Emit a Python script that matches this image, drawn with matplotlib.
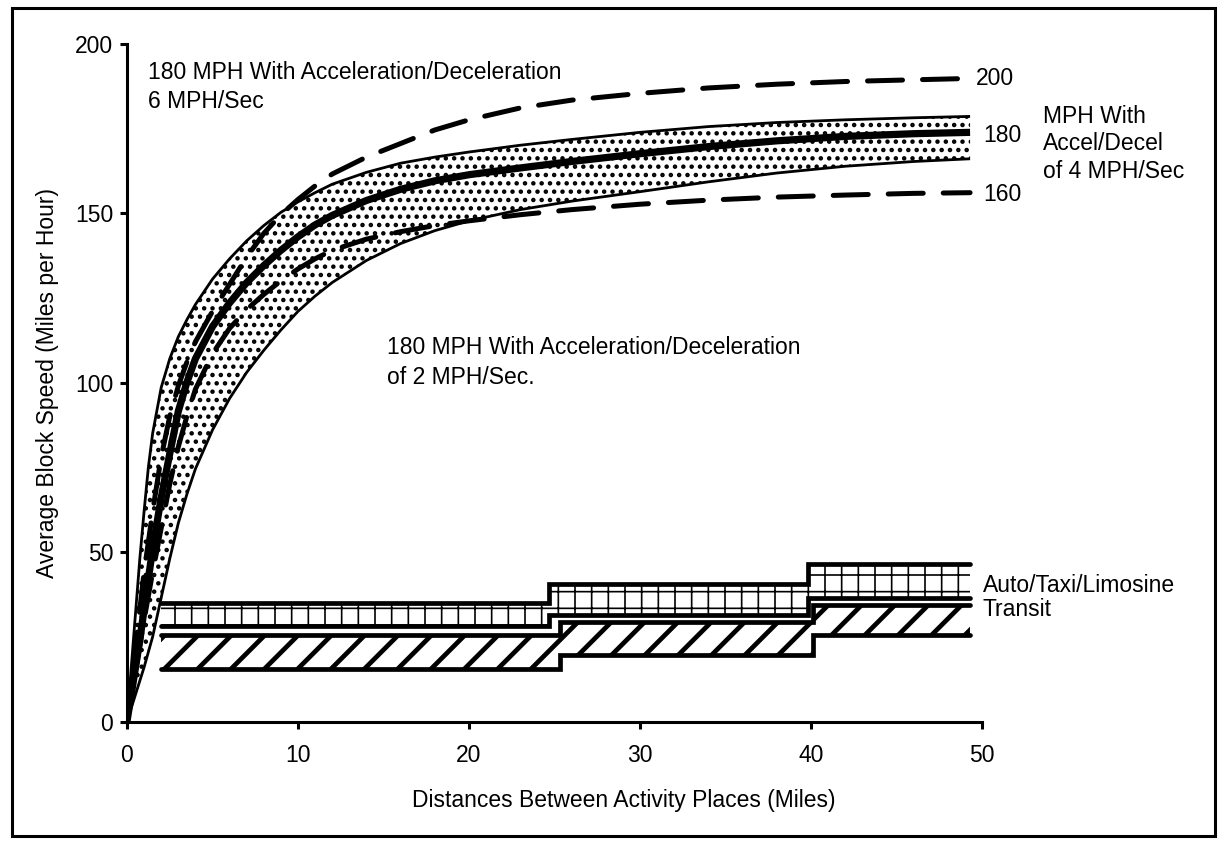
import matplotlib
matplotlib.use("Agg")
import matplotlib.pyplot as plt
from matplotlib.patches import Rectangle

plt.rcParams['font.family'] = ['Liberation Sans', 'DejaVu Sans']
plt.rcParams['hatch.color'] = 'black'

# Distance between stops (miles) at which the block-speed curves are tabulated
dist = [0, 0.25, 0.5, 0.75, 1, 1.25, 1.5, 2, 2.5, 3, 3.5, 4, 5, 6, 7, 8, 9, 10, 11, 12,
        14, 16, 18, 20, 23, 26, 30, 34, 38, 42, 46, 49.3]

# 180 MPH cruising speed, 6 MPH/sec accel/decel (upper edge of band)
speed_6 = [0, 16, 32, 48, 62, 75, 85, 98.5, 107, 113.5, 118.5, 123, 130.5, 136.5, 141.8,
           146.3, 150.2, 153.3, 156, 158.5, 162, 164.7, 166.5, 168, 170, 171.7, 173.8,
           175.5, 176.7, 177.5, 178.1, 178.5]
# 180 MPH, 4 MPH/sec (centre line)
speed_4 = [0, 8, 16, 24, 33, 42, 51, 66, 79, 91.5, 100, 107, 116.5, 123.5, 129.5, 134.5,
           139, 143, 146.5, 149.3, 153.7, 157, 159.5, 161.3, 163.3, 165.2, 167.5, 169.6,
           171.3, 172.6, 173.4, 173.8]
# 180 MPH, 2 MPH/sec (lower edge of band)
speed_2 = [0, 4, 8, 12, 16, 20.5, 25, 36.5, 48, 58.5, 67, 74.5, 86, 95.3, 103, 109.5,
           115.5, 121, 125.5, 129.5, 136, 141, 144.8, 147.7, 151, 153.5, 156.3, 159.2,
           161.8, 163.8, 165.2, 166]
# 200 MPH, 4 MPH/sec
speed_200 = [0, 11, 22, 33, 44, 53, 62, 78, 90, 99, 106, 112, 121, 129, 137, 144, 149.5,
             154, 158, 161.5, 166.5, 170.5, 174.5, 177.5, 181, 183.3, 185.3, 186.9,
             188, 188.8, 189.3, 189.7]
# 160 MPH, 4 MPH/sec
speed_160 = [0, 7.5, 15, 22.5, 30, 37, 44, 57, 70, 81, 90, 98, 108.5, 116, 121.5, 126,
             130, 133.5, 136.5, 139, 142.3, 144.5, 146.3, 147.7, 149.5, 151, 152.6,
             153.8, 154.7, 155.3, 155.8, 156]

# Competing modes: stepwise speed ranges by trip-distance bracket
auto_edges = [2, 24.7, 39.8, 49.3]
auto_low = [28.2, 31.4, 36.4]
auto_high = [35.0, 40.6, 46.5]
transit_edges = [2, 25.3, 40.1, 49.3]
transit_low = [15.4, 19.6, 25.5]
transit_high = [25.5, 29.4, 34.4]

x_ticks = [0, 10, 20, 30, 40, 50]
y_ticks = [0, 50, 100, 150, 200]

FS = 16.5

fig = plt.figure(figsize=(12.21, 8.42), dpi=100)
ax = fig.add_axes([0.1040, 0.1431, 0.7003, 0.8052])


def set_hatch_width(artist, w):
    if hasattr(artist, 'set_hatch_linewidth'):
        artist.set_hatch_linewidth(w)


def closed(v):
    return list(v) + [v[-1]]


# stippled envelope between 2 and 6 MPH/sec
with plt.rc_context({'hatch.linewidth': 2.0}):
    env = ax.fill_between(dist, speed_2, speed_6, facecolor='white', edgecolor='black',
                          hatch='..', linewidth=0, zorder=1)
set_hatch_width(env, 2.0)

ax.plot(dist, speed_6, color='black', lw=2.0, zorder=2, solid_capstyle='butt')
ax.plot(dist, speed_2, color='black', lw=2.0, zorder=2, solid_capstyle='butt')
ax.plot(dist, speed_200, color='black', lw=3.6, dashes=(7, 4), dash_capstyle='round',
        zorder=3)
ax.plot(dist, speed_160, color='black', lw=3.6, dashes=(7, 4), dash_capstyle='round',
        zorder=3)
ax.plot(dist, speed_4, color='black', lw=5.2, zorder=3, solid_capstyle='butt')

# Auto / taxi / limousine band (grid fill)
with plt.rc_context({'hatch.linewidth': 1.2}):
    auto = ax.fill_between(auto_edges, closed(auto_low), closed(auto_high), step='post',
                           facecolor='white', edgecolor='black', hatch='+',
                           linewidth=0, zorder=4)
set_hatch_width(auto, 1.2)
for vals in (auto_low, auto_high):
    ax.step(auto_edges, closed(vals), where='post', color='black', lw=3.4,
            solid_capstyle='round', solid_joinstyle='miter', zorder=5)

# Transit band (diagonal fill)
with plt.rc_context({'hatch.linewidth': 3.4}):
    transit = ax.fill_between(transit_edges, closed(transit_low), closed(transit_high),
                              step='post', facecolor='white', edgecolor='black',
                              hatch='/', linewidth=0, zorder=4)
set_hatch_width(transit, 3.4)
for vals in (transit_low, transit_high):
    ax.step(transit_edges, closed(vals), where='post', color='black', lw=3.4,
            solid_capstyle='round', solid_joinstyle='miter', zorder=5)

# axes styling
ax.set_xlim(0, 50)
ax.set_ylim(0, 200)
ax.set_xticks(x_ticks)
ax.set_yticks(y_ticks)
for side in ('top', 'right'):
    ax.spines[side].set_visible(False)
for side in ('left', 'bottom'):
    ax.spines[side].set_linewidth(2.2)
ax.tick_params(direction='out', length=5, width=2.2, labelsize=FS)
ax.tick_params(axis='x', pad=11)
ax.tick_params(axis='y', pad=5)

ax.set_xlabel('Distances Between Activity Places (Miles)', fontsize=FS)
ax.xaxis.set_label_coords(0.581, -0.100)
ax.set_ylabel('Average Block Speed (Miles per Hour)', fontsize=FS)
ax.yaxis.set_label_coords(-0.080, 0.5)

# curve annotations
ax.text(1.23, 194.9, '180 MPH With Acceleration/Deceleration\n6 MPH/Sec', fontsize=FS,
        ha='left', va='top', linespacing=1.32)
ax.text(15.2, 113.8, '180 MPH With Acceleration/Deceleration\nof 2 MPH/Sec.', fontsize=FS,
        ha='left', va='top', linespacing=1.38)
ax.text(49.65, 189.7, '200', fontsize=FS, ha='left', va='center', clip_on=False)
ax.text(50.05, 173.0, '180', fontsize=FS, ha='left', va='center', clip_on=False)
ax.text(50.05, 155.6, '160', fontsize=FS, ha='left', va='center', clip_on=False)
ax.text(53.55, 181.9, 'MPH With\nAccel/Decel\nof 4 MPH/Sec', fontsize=FS, ha='left',
        va='top', linespacing=1.25, clip_on=False)
ax.text(50.05, 40.0, 'Auto/Taxi/Limosine', fontsize=FS, ha='left', va='center',
        clip_on=False)
ax.text(50.05, 33.0, 'Transit', fontsize=FS, ha='left', va='center', clip_on=False)

# outer frame
fig.patches.append(Rectangle((0.0098, 0.0071), 0.9853, 0.9834, transform=fig.transFigure,
                             fill=False, edgecolor='black', linewidth=2.2))

fig.savefig('out.png', dpi=100, facecolor='white')
